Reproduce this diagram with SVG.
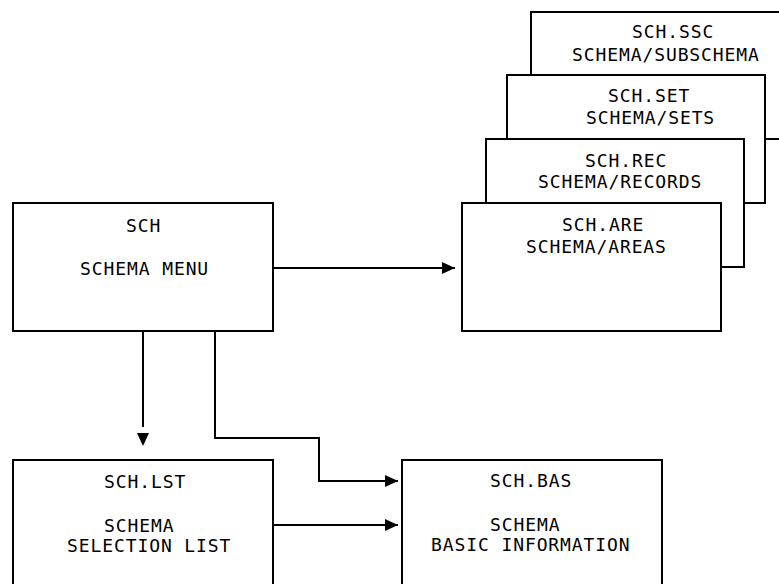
<svg xmlns="http://www.w3.org/2000/svg" width="779" height="584" viewBox="0 0 779 584">
<defs>
<style>
.box{fill:#fff;stroke:#000;stroke-width:2}
.t{font-family:"DejaVu Sans Mono","Liberation Mono",monospace;font-size:18px;letter-spacing:0.9px;fill:#000}
.c{fill:none;stroke:#000;stroke-width:2}
</style>
<marker id="arrow" viewBox="0 0 13 12" refX="13" refY="6" markerWidth="13" markerHeight="12" markerUnits="userSpaceOnUse" orient="auto" overflow="visible">
<path d="M0,0 L13,6 L0,12 Z" fill="#000"/>
</marker>
<marker id="arrowgap" viewBox="0 0 13 12" refX="-6" refY="6" markerWidth="13" markerHeight="12" markerUnits="userSpaceOnUse" orient="auto" overflow="visible">
<path d="M0,0 L13,6 L0,12 Z" fill="#000"/>
</marker>
</defs>
<rect width="779" height="584" fill="#fff"/>
<g id="sch-ssc">
<rect class="box" x="531" y="12" width="270" height="127"/>
<text class="t" x="632" y="38">SCH.SSC</text>
<text class="t" x="572" y="61">SCHEMA/SUBSCHEMA</text>
</g>
<g id="sch-set">
<rect class="box" x="507" y="75" width="258" height="128"/>
<text class="t" x="608" y="102">SCH.SET</text>
<text class="t" x="586" y="124">SCHEMA/SETS</text>
</g>
<g id="sch-rec">
<rect class="box" x="486" y="139" width="258" height="128"/>
<text class="t" x="585" y="167">SCH.REC</text>
<text class="t" x="538" y="188">SCHEMA/RECORDS</text>
</g>
<g id="sch-are">
<rect class="box" x="462" y="203" width="259" height="128"/>
<text class="t" x="562" y="231">SCH.ARE</text>
<text class="t" x="526" y="253">SCHEMA/AREAS</text>
</g>
<g id="sch">
<rect class="box" x="13" y="203" width="260" height="128"/>
<text class="t" x="126" y="232">SCH</text>
<text class="t" x="80" y="275">SCHEMA MENU</text>
</g>
<g id="sch-lst">
<rect class="box" x="13" y="460" width="260" height="140"/>
<text class="t" x="104" y="488">SCH.LST</text>
<text class="t" x="104" y="532">SCHEMA</text>
<text class="t" x="67" y="552">SELECTION LIST</text>
</g>
<g id="sch-bas">
<rect class="box" x="402" y="460" width="260" height="140"/>
<text class="t" x="490" y="487">SCH.BAS</text>
<text class="t" x="490" y="531">SCHEMA</text>
<text class="t" x="431" y="551">BASIC INFORMATION</text>
</g>
<g id="connectors">
<path class="c" d="M273,268 H455" marker-end="url(#arrow)"/>
<path class="c" d="M143,331 V427" marker-end="url(#arrowgap)"/>
<path class="c" d="M215,331 V438 H319 V481 H398" marker-end="url(#arrow)"/>
<path class="c" d="M273,525 H398" marker-end="url(#arrow)"/>
</g>
</svg>
